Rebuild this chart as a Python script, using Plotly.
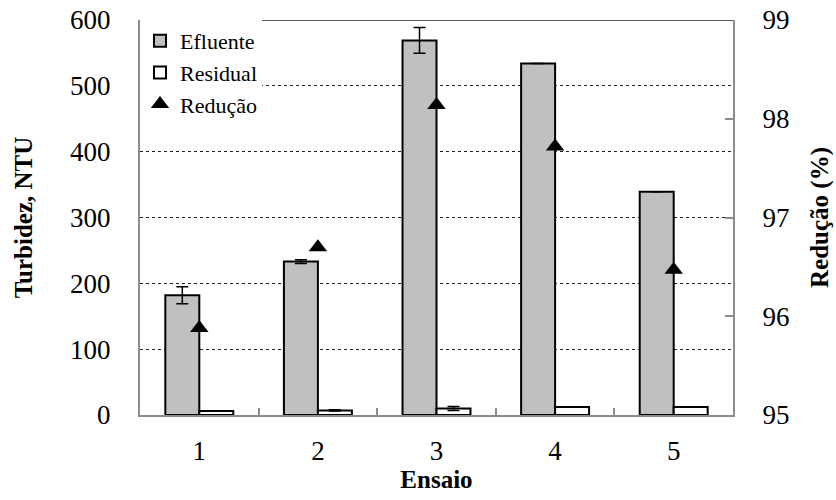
import plotly.graph_objects as go

categories = ["1", "2", "3", "4", "5"]
efluente = [182, 233, 569, 534, 339]
efluente_err = [13, 3, 19.5, 0, 0]
residual = [6, 7, 10, 12, 12]
residual_err = [0, 1, 3, 0, 0]
reducao = [95.88, 96.70, 98.14, 97.72, 96.47]

y_ticks = [0, 100, 200, 300, 400, 500, 600]
y2_ticks = [95, 96, 97, 98, 99]

font_family = "Times New Roman"
grey_axis = "#8c8c8c"

fig = go.Figure()
fig.add_trace(go.Bar(
    x=categories, y=efluente, name="Efluente",
    marker=dict(color="#c0c0c0", line=dict(color="black", width=2)),
    error_y=dict(type="data", array=efluente_err, color="black", thickness=1.5, width=6),
))
fig.add_trace(go.Bar(
    x=categories, y=residual, name="Residual",
    marker=dict(color="white", line=dict(color="black", width=2)),
    error_y=dict(type="data", array=residual_err, color="black", thickness=1.5, width=6),
))
fig.add_trace(go.Scatter(
    x=categories, y=reducao, name="Redução", mode="markers", yaxis="y2",
    marker=dict(symbol="triangle-up", size=16, color="black"),
))

fig.add_shape(type="line", xref="paper", yref="y", x0=0, x1=1, y0=600, y1=600,
              line=dict(color="#222222", width=1.5), layer="below")

fig.update_layout(
    width=836, height=500,
    margin=dict(l=140, r=103, t=20, b=85, autoexpand=False),
    paper_bgcolor="white", plot_bgcolor="white",
    font=dict(family=font_family, color="black", size=27),
    barmode="group", bargap=0.427, bargroupgap=0,
    showlegend=True,
    legend=dict(x=0.0, y=1.0, xanchor="left", yanchor="top",
                bgcolor="white", font=dict(size=22, family=font_family),
                itemwidth=30, tracegroupgap=0, borderwidth=0),
    xaxis=dict(
        type="category", showline=True, linecolor=grey_axis, linewidth=2,
        ticks="inside", tickson="boundaries", tickcolor=grey_axis, ticklen=7, tickwidth=1.5,
        tickfont=dict(size=27, family=font_family), ticklabelstandoff=11,
        title=dict(text="<b>Ensaio</b>", font=dict(size=25, family=font_family), standoff=4),
        showgrid=False, automargin=False,
    ),
    yaxis=dict(
        range=[0, 600], tickvals=y_ticks, showline=True, linecolor=grey_axis, linewidth=2,
        ticks="", tickfont=dict(size=27, family=font_family), ticklabelstandoff=22,
        showgrid=True, gridcolor="#222222", griddash="dot", gridwidth=1,
        zeroline=False, automargin=False,
        title=dict(text="<b>Turbidez, NTU</b>", font=dict(size=25, family=font_family), standoff=30),
    ),
    yaxis2=dict(
        range=[95, 99], tickvals=y2_ticks, overlaying="y", side="right",
        showline=True, linecolor=grey_axis, linewidth=2,
        ticks="inside", tickcolor=grey_axis, ticklen=8, tickwidth=1.5,
        tickfont=dict(size=27, family=font_family), ticklabelstandoff=22,
        showgrid=False, zeroline=False, automargin=False,
        title=dict(text="<b>Redução (%)</b>", font=dict(size=25, family=font_family), standoff=22),
    ),
)

fig.write_html("out.html")
